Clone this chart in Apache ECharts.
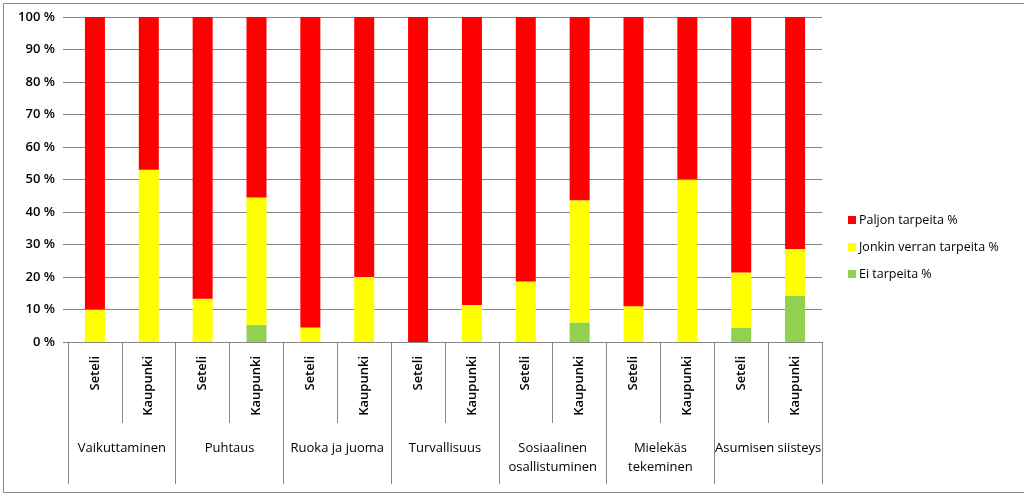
<!DOCTYPE html>
<html>
<head>
<meta charset="utf-8">
<script src="https://cdn.jsdelivr.net/npm/echarts@6/dist/echarts.min.js"></script>
<style>
html,body{margin:0;padding:0;background:#fff;}
#c{width:1024px;height:493px;}
</style>
</head>
<body>
<div id="c"></div>
<script>
const subCategories = ['Seteli','Kaupunki','Seteli','Kaupunki','Seteli','Kaupunki','Seteli','Kaupunki','Seteli','Kaupunki','Seteli','Kaupunki','Seteli','Kaupunki'];
const groups = ['Vaikuttaminen','Puhtaus','Ruoka ja juoma','Turvallisuus','Sosiaalinen\nosallistuminen','Mielekäs\ntekeminen','Asumisen siisteys'];
const eiTarpeita = [0, 0, 0, 5.3, 0, 0, 0, 0, 0, 6, 0, 0, 4.3, 14.3];
const jonkinVerran = [10, 53, 13.3, 39.2, 4.5, 20, 0, 11.4, 18.6, 37.6, 11, 50, 17.1, 14.3];
const paljon = [90, 47, 86.7, 55.5, 95.5, 80, 100, 88.6, 81.4, 56.4, 89, 50, 78.6, 71.4];
const yTicks = [0,10,20,30,40,50,60,70,80,90,100];

const FONT = 'Open Sans';
const chart = echarts.init(document.getElementById('c'));
chart.setOption({
  animation: false,
  backgroundColor: '#fff',
  textStyle: {fontFamily: FONT},
  graphic: [{
    type: 'rect', left: 1, top: 1,
    shape: {x: 0, y: 0, width: 1021, height: 489},
    style: {fill: 'none', stroke: '#888', lineWidth: 1}
  }],
  grid: {left: 68, right: 202, top: 17, bottom: 151},
  legend: {
    orient: 'vertical',
    left: 843, top: 206,
    itemWidth: 8, itemHeight: 8, itemGap: 9,
    icon: 'rect',
    data: ['Paljon tarpeita %','Jonkin verran tarpeita %','Ei tarpeita %'],
    textStyle: {fontFamily: FONT, fontSize: 12.5, color: '#000', padding: [0,0,0,-2], lineHeight: 18}
  },
  xAxis: [{
    type: 'category',
    data: subCategories,
    axisLine: {show: true, lineStyle: {color: '#868686'}},
    axisTick: {show: true, length: 81, interval: 0, lineStyle: {color: '#868686'}},
    axisLabel: {rotate: 90, interval: 0, margin: 14, fontSize: 13, color: '#000', fontFamily: FONT, fontWeight: 600}
  }, {
    type: 'category',
    data: groups,
    position: 'bottom',
    axisLine: {show: false},
    axisTick: {show: true, length: 142, interval: 0, lineStyle: {color: '#868686'}},
    axisLabel: {interval: 0, margin: 97, fontSize: 13, color: '#000', fontFamily: FONT, lineHeight: 19}
  }],
  yAxis: {
    type: 'value', min: 0, max: 100, interval: 10,
    axisLine: {show: false},
    axisTick: {show: true, length: 5, lineStyle: {color: '#868686'}},
    splitLine: {show: true, lineStyle: {color: '#868686'}},
    axisLabel: {formatter: '{value} %', margin: 13, fontSize: 13, color: '#000', fontFamily: FONT, fontWeight: 600}
  },
  series: [
    {name: 'Ei tarpeita %', type: 'bar', stack: 's', barWidth: 20, data: eiTarpeita, itemStyle: {color: '#92D050'}},
    {name: 'Jonkin verran tarpeita %', type: 'bar', stack: 's', barWidth: 20, data: jonkinVerran, itemStyle: {color: '#FFFF00'}},
    {name: 'Paljon tarpeita %', type: 'bar', stack: 's', barWidth: 20, data: paljon, itemStyle: {color: '#FF0000'}}
  ]
});
</script>
</body>
</html>
